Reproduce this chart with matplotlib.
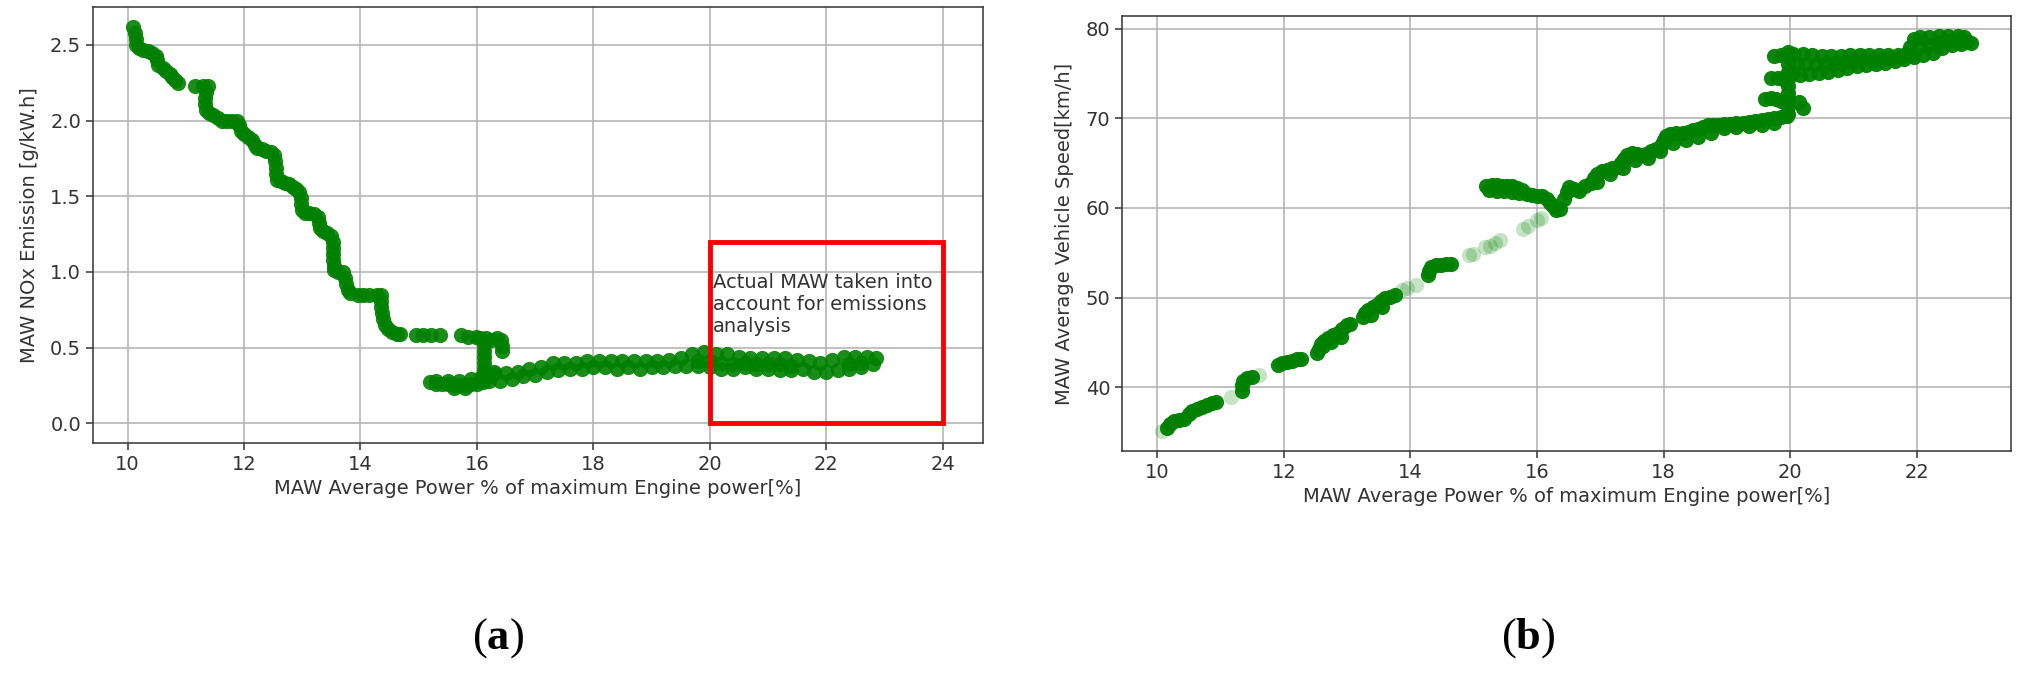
import matplotlib
matplotlib.use("Agg")
import matplotlib.pyplot as plt
from matplotlib.patches import Rectangle

plt.rcParams['font.family'] = ['DejaVu Sans']
plt.rcParams['mathtext.fontset'] = 'custom'
plt.rcParams['mathtext.rm'] = 'Liberation Serif'
plt.rcParams['mathtext.bf'] = 'Liberation Serif:bold'

# ---------------- Panel (a): NOx emission vs average power ----------------
nox_x = [10.10, 10.12, 10.14, 10.15, 10.20, 10.27, 10.35, 10.42, 10.48, 10.50, 10.53, 10.60,
         10.66, 10.72, 10.77, 10.82, 10.86,
         11.16, 11.30, 11.38, 11.35, 11.33, 11.33, 11.34, 11.40, 11.47, 11.55, 11.62, 11.70,
         11.80, 11.88, 11.92, 11.94, 12.00, 12.07, 12.13, 12.18, 12.23, 12.30, 12.38, 12.46,
         12.52, 12.54, 12.55, 12.55, 12.57, 12.63, 12.70, 12.77, 12.84, 12.90, 12.95, 12.97,
         12.98, 13.00, 13.05, 13.12, 13.20, 13.27, 13.28, 13.30, 13.36, 13.43, 13.50, 13.52,
         13.53, 13.53, 13.53, 13.54, 13.55, 13.62, 13.70, 13.74, 13.75, 13.78, 13.82,
         13.95, 14.05, 14.15, 14.28, 14.35, 14.36, 14.36, 14.37, 14.38, 14.42, 14.48, 14.55,
         14.62, 14.68,
         14.95, 15.08, 15.22, 15.36, 15.72, 15.85, 15.98, 16.06, 16.16, 16.25, 16.35, 16.42,
         16.44, 16.44,
         16.12, 16.12, 16.12, 16.12, 16.12, 16.12, 16.15,
         15.20, 15.30, 15.40, 15.50, 15.60, 15.70, 15.80, 15.90, 16.00, 16.10, 16.20, 16.25,
         16.30,
         15.30, 15.50, 15.70, 15.90, 16.05, 15.60, 15.80,
         16.30, 16.50, 16.70, 16.90, 17.10, 17.30, 17.50, 17.70, 17.90, 18.10, 18.30, 18.50,
         18.70, 18.90, 19.10, 19.30, 19.50, 19.70, 19.90, 20.10, 20.30, 20.50, 20.70, 20.90,
         21.10, 21.30, 21.50, 21.70, 21.90, 22.10, 22.30, 22.50, 22.70, 22.85,
         16.40, 16.60, 16.80, 17.00, 17.20, 17.40, 17.60, 17.80, 18.00, 18.20, 18.40, 18.60,
         18.80, 19.00, 19.20, 19.40, 19.60, 19.80, 20.00, 20.20, 20.40, 20.60, 20.80, 21.00,
         21.20, 21.40, 21.60, 21.80, 22.00, 22.20, 22.40, 22.60, 22.80,
         19.80, 20.00, 20.20, 20.40, 20.60, 20.80, 21.00, 21.20, 21.40, 22.40, 22.60]
nox_y = [2.62, 2.58, 2.54, 2.50, 2.48, 2.47, 2.46, 2.45, 2.43, 2.40, 2.37, 2.35,
         2.33, 2.31, 2.29, 2.27, 2.25,
         2.23, 2.23, 2.23, 2.19, 2.15, 2.11, 2.07, 2.05, 2.04, 2.02, 2.00, 2.00,
         2.00, 2.00, 1.97, 1.93, 1.91, 1.89, 1.87, 1.84, 1.82, 1.81, 1.80, 1.79,
         1.77, 1.73, 1.69, 1.65, 1.61, 1.60, 1.59, 1.58, 1.56, 1.55, 1.53, 1.49,
         1.45, 1.41, 1.39, 1.39, 1.38, 1.36, 1.32, 1.29, 1.27, 1.26, 1.24, 1.20,
         1.16, 1.12, 1.08, 1.04, 1.01, 1.00, 1.00, 0.96, 0.92, 0.88, 0.86,
         0.85, 0.85, 0.85, 0.85, 0.85, 0.81, 0.77, 0.73, 0.69, 0.65, 0.62, 0.60,
         0.59, 0.59,
         0.58, 0.58, 0.58, 0.58, 0.58, 0.57, 0.57, 0.56, 0.56, 0.55, 0.56, 0.55,
         0.51, 0.48,
         0.52, 0.48, 0.44, 0.40, 0.36, 0.33, 0.30,
         0.27, 0.26, 0.26, 0.26, 0.25, 0.25, 0.25, 0.26, 0.26, 0.27, 0.28, 0.31,
         0.33,
         0.28, 0.28, 0.28, 0.29, 0.30, 0.23, 0.23,
         0.34, 0.33, 0.34, 0.36, 0.37, 0.40, 0.40, 0.40, 0.41, 0.41, 0.41, 0.41,
         0.41, 0.41, 0.41, 0.42, 0.43, 0.46, 0.47, 0.46, 0.46, 0.44, 0.43, 0.43,
         0.43, 0.43, 0.42, 0.41, 0.40, 0.42, 0.44, 0.44, 0.44, 0.43,
         0.28, 0.29, 0.31, 0.32, 0.34, 0.35, 0.36, 0.36, 0.37, 0.37, 0.36, 0.37,
         0.36, 0.37, 0.37, 0.38, 0.38, 0.38, 0.37, 0.36, 0.36, 0.37, 0.36, 0.36,
         0.35, 0.35, 0.36, 0.34, 0.34, 0.35, 0.36, 0.37, 0.39,
         0.41, 0.41, 0.40, 0.39, 0.40, 0.39, 0.39, 0.39, 0.38, 0.39, 0.40]

box_x0, box_y0, box_w, box_h = 20, 0, 4, 1.2
box_text = "Actual MAW taken into\naccount for emissions\nanalysis"

# ---------------- Panel (b): vehicle speed vs average power ----------------
spd_x = [10.15, 10.20, 10.27, 10.35, 10.42, 10.50, 10.55, 10.62, 10.70, 10.78, 10.86, 10.92,
         11.33, 11.33, 11.36, 11.42, 11.50,
         11.90, 11.97, 12.05, 12.12, 12.20, 12.27,
         12.52, 12.55, 12.58, 12.63, 12.70, 12.78, 12.85, 12.92, 13.00, 13.05,
         12.62, 12.75, 12.90,
         13.25, 13.28, 13.33, 13.40, 13.47, 13.53, 13.60, 13.68, 13.75,
         13.38, 13.55,
         14.28, 14.30, 14.33, 14.40, 14.48, 14.56, 14.64,
         15.20, 15.28, 15.36, 15.44, 15.52, 15.60, 15.68, 15.76, 15.84, 15.92, 16.00, 16.08,
         16.15, 16.20, 16.25, 16.30, 16.37,
         15.24, 15.36, 15.48, 15.60, 15.72,
         16.42, 16.47, 16.50, 16.58, 16.66, 16.75, 16.85, 16.90, 16.95, 17.02, 17.10, 17.18,
         17.27, 17.33, 17.37, 17.42, 17.50, 17.58, 17.65, 17.72, 17.80, 17.88, 17.97, 18.00,
         18.03, 18.10, 18.20, 18.30, 18.38, 18.46, 18.55, 18.62, 18.70, 18.78, 18.86, 18.95,
         19.05, 19.15, 19.25, 19.35, 19.45, 19.55, 19.65, 19.75, 19.85, 19.95,
         16.95, 17.15, 17.35, 17.55, 17.75, 17.95, 18.15, 18.35, 18.55, 18.75, 18.95, 19.15,
         19.35, 19.55, 19.75,
         19.60, 19.70, 19.78, 19.85, 19.70, 19.80, 19.88, 19.75, 19.85, 19.93,
         19.97, 19.97, 19.97, 19.97, 19.97, 19.97, 19.97, 19.97, 19.97, 19.97,
         20.14, 20.20,
         20.05, 20.20, 20.35, 20.50, 20.65, 20.80, 20.95, 21.10, 21.25, 21.40, 21.55, 21.70,
         21.85, 21.90, 21.95, 22.05, 22.20, 22.35, 22.50, 22.65, 22.75, 22.85,
         20.05, 20.15, 20.30, 20.45, 20.60, 20.75, 20.90, 21.05, 21.20, 21.35, 21.50, 21.65,
         21.80, 21.95, 22.10, 22.25, 22.40, 22.55, 22.70,
         20.10, 20.25, 20.40, 20.55, 20.70, 20.85, 21.00, 21.15, 21.30, 21.45, 21.60, 21.75,
         21.90, 22.05, 22.20, 22.35, 22.50, 22.65, 22.80]
spd_y = [35.5, 35.9, 36.2, 36.3, 36.5, 37.0, 37.4, 37.6, 37.8, 38.0, 38.2, 38.4,
         39.6, 40.2, 40.7, 41.0, 41.1,
         42.5, 42.7, 42.8, 42.9, 43.1, 43.2,
         43.8, 44.3, 44.8, 45.2, 45.5, 45.8, 46.1, 46.5, 46.9, 47.1,
         44.6, 45.0, 45.6,
         47.8, 48.3, 48.6, 48.9, 49.2, 49.6, 49.9, 50.1, 50.3,
         48.1, 48.9,
         52.5, 53.0, 53.4, 53.6, 53.6, 53.7, 53.8,
         62.5, 62.6, 62.6, 62.5, 62.4, 62.4, 62.2, 62.0, 61.6, 61.4, 61.3, 61.3,
         61.0, 60.6, 60.2, 59.8, 59.9,
         62.0, 61.9, 61.9, 61.8, 61.7,
         61.0, 61.8, 62.3, 62.1, 61.9, 62.4, 62.8, 63.3, 63.8, 64.1, 64.2, 64.4,
         64.6, 65.0, 65.5, 65.9, 66.1, 66.0, 65.9, 66.0, 66.3, 66.6, 67.1, 67.6,
         68.0, 68.2, 68.3, 68.3, 68.5, 68.7, 68.8, 69.0, 69.2, 69.2, 69.3, 69.4,
         69.4, 69.5, 69.5, 69.6, 69.7, 69.8, 69.9, 70.0, 70.1, 70.3,
         62.9, 63.8, 64.4, 65.3, 65.6, 66.4, 67.2, 67.6, 67.9, 68.4, 68.9, 69.0,
         69.1, 69.3, 69.5,
         72.2, 72.3, 72.2, 71.9, 74.5, 74.5, 74.4, 76.9, 77.0, 77.1,
         70.5, 71.3, 72.0, 72.8, 73.6, 74.4, 75.2, 76.0, 76.8, 77.4,
         71.8, 71.1,
         77.2, 77.2, 77.1, 76.9, 76.9, 76.9, 77.0, 77.0, 77.0, 77.0, 77.1, 77.1,
         77.3, 78.0, 78.8, 79.1, 79.1, 79.2, 79.2, 79.2, 79.1, 78.4,
         75.0, 74.8, 74.9, 75.0, 75.2, 75.4, 75.6, 75.8, 75.9, 76.1, 76.2, 76.4,
         76.6, 76.8, 77.0, 77.3, 77.8, 78.2, 78.3,
         76.1, 76.0, 76.0, 76.1, 76.2, 76.2, 76.4, 76.5, 76.5, 76.6, 76.7, 76.8,
         77.0, 78.0, 78.2, 78.4, 78.6, 78.6, 78.6]

# isolated (single, faint) windows
spd_faint_x = [10.08, 11.16, 11.61, 13.87, 13.95, 14.08, 14.93, 14.98, 15.18, 15.25, 15.33,
               15.42, 15.78, 15.85, 16.00, 16.06]
spd_faint_y = [35.1, 38.9, 41.4, 50.9, 51.1, 51.4, 54.7, 54.9, 55.6, 55.8, 56.1,
               56.4, 57.7, 58.0, 58.7, 58.9]

xlabel = "MAW Average Power % of maximum Engine power[%]"
ylabel_a = "MAW NOx Emission [g/kW.h]"
ylabel_b = "MAW Average Vehicle Speed[km/h]"
captions = [r"$(\mathbf{a})$", r"$(\mathbf{b})$"]

# ---------------- Figure ----------------
fig = plt.figure(figsize=(20.26, 6.8), dpi=100)
ax1 = fig.add_axes([0.0459, 0.3485, 0.4393, 0.6412])
ax2 = fig.add_axes([0.5538, 0.3368, 0.4388, 0.6397])

green = (0.0, 0.5, 0.0)
ms = 120

for ax in (ax1, ax2):
    ax.set_axisbelow(True)
    ax.grid(True, color='#b0b0b0', linewidth=1.1)
    for sp in ax.spines.values():
        sp.set_linewidth(1.1)
        sp.set_color('#333333')
    ax.tick_params(labelsize=14, width=1.1, length=5, colors='#333333')
    ax.set_xlabel(xlabel, fontsize=14, color='#333333')

ax1.scatter(nox_x, nox_y, s=ms, color=green, alpha=0.9, linewidths=0)
ax1.add_patch(Rectangle((box_x0, box_y0), box_w, box_h, fill=False,
                        edgecolor='red', linewidth=3.5, zorder=3))
ax1.text(box_x0 + 0.05, 0.99, box_text, fontsize=14, va='top', ha='left', color='#333333')
ax1.set_ylabel(ylabel_a, fontsize=14, color='#333333', labelpad=8)

ax2.scatter(spd_faint_x, spd_faint_y, s=ms, color=green, alpha=0.22, linewidths=0)
ax2.scatter(spd_x, spd_y, s=ms, color=green, alpha=0.95, linewidths=0)
ax2.set_ylabel(ylabel_b, fontsize=14, color='#333333', labelpad=8)

fig.text(498 / 2026, 1 - 638 / 680, captions[0], ha='center', va='center', fontsize=32)
fig.text(1528 / 2026, 1 - 638 / 680, captions[1], ha='center', va='center', fontsize=32)

fig.savefig("out.png", dpi=100)
